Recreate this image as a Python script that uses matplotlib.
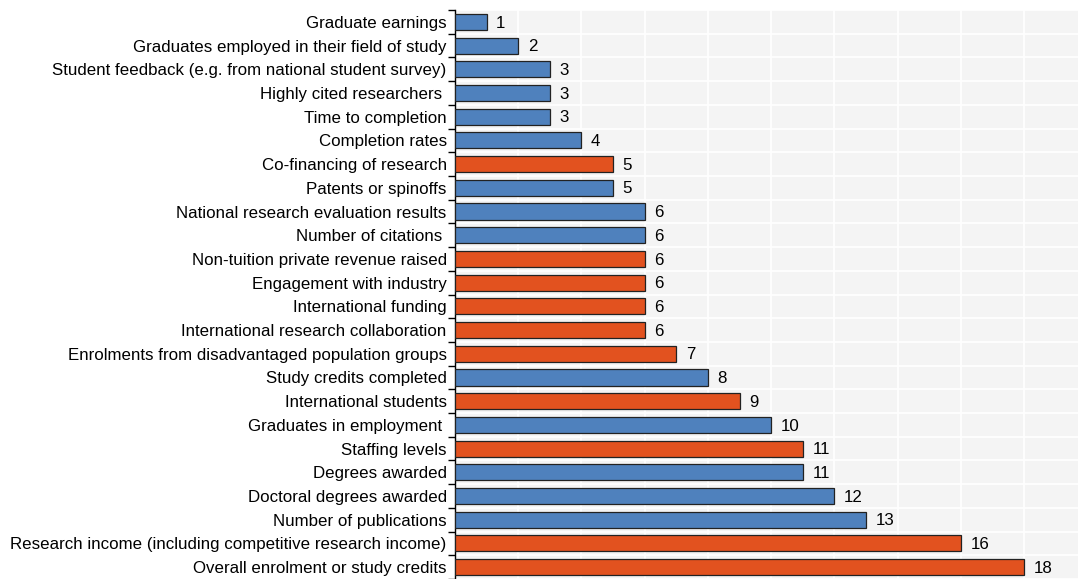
import numpy as np
import matplotlib.pyplot as plt
from matplotlib.ticker import FixedLocator, MultipleLocator

plt.rcParams['font.family'] = ['Liberation Sans', 'DejaVu Sans']

# Data (top to bottom)
labels = [
    "Graduate earnings",
    "Graduates employed in their field of study",
    "Student feedback (e.g. from national student survey)",
    "Highly cited researchers ",
    "Time to completion",
    "Completion rates",
    "Co-financing of research",
    "Patents or spinoffs",
    "National research evaluation results",
    "Number of citations ",
    "Non-tuition private revenue raised",
    "Engagement with industry",
    "International funding",
    "International research collaboration",
    "Enrolments from disadvantaged population groups",
    "Study credits completed",
    "International students",
    "Graduates in employment ",
    "Staffing levels",
    "Degrees awarded",
    "Doctoral degrees awarded",
    "Number of publications",
    "Research income (including competitive research income)",
    "Overall enrolment or study credits",
]
values = [1, 2, 3, 3, 3, 4, 5, 5, 6, 6, 6, 6, 6, 6, 7, 8, 9, 10, 11, 11, 12, 13, 16, 18]
groups = ["b", "b", "b", "b", "b", "b", "o", "b", "b", "b", "o", "o", "o", "o",
          "o", "b", "o", "b", "o", "b", "b", "b", "o", "o"]

palette = {"b": "#4F81BD", "o": "#E2521F"}
colors = [palette[g] for g in groups]

fig = plt.figure(figsize=(10.78, 5.79), dpi=100)
ax = fig.add_axes([455 / 1078, 0, (1078 - 455) / 1078, 569 / 579])

y = np.arange(len(labels))
ax.barh(y, values, height=0.68, color=colors, edgecolor="#222222", linewidth=0.9, zorder=3)

for yi, v in zip(y, values):
    ax.text(v + 0.3, yi + 0.05, str(v), va="center", ha="left", fontsize=12.2, zorder=4)

ax.set_facecolor("#F4F4F4")
ax.set_xlim(0, 19.7)
ax.set_ylim(len(labels) - 0.5, -0.5)

# labels at bar centres, ticks + grid on category boundaries
ax.yaxis.set_major_locator(FixedLocator(np.arange(-0.5, len(labels), 1.0)))
ax.yaxis.set_minor_locator(FixedLocator(y))
ax.set_yticklabels([], minor=False)
ax.set_yticklabels(labels, minor=True, fontsize=12.2)
ax.tick_params(axis="y", which="major", length=5, width=1, direction="out")
ax.tick_params(axis="y", which="minor", length=0, pad=6)

ax.xaxis.set_major_locator(MultipleLocator(2))
ax.tick_params(axis="x", which="both", length=0, labelbottom=False)

ax.grid(True, which="major", color="white", linewidth=1.2, zorder=0)

for s in ["top", "right", "bottom"]:
    ax.spines[s].set_visible(False)
ax.spines["left"].set_color("black")
ax.spines["left"].set_linewidth(1)

fig.savefig("out.png", dpi=100)
